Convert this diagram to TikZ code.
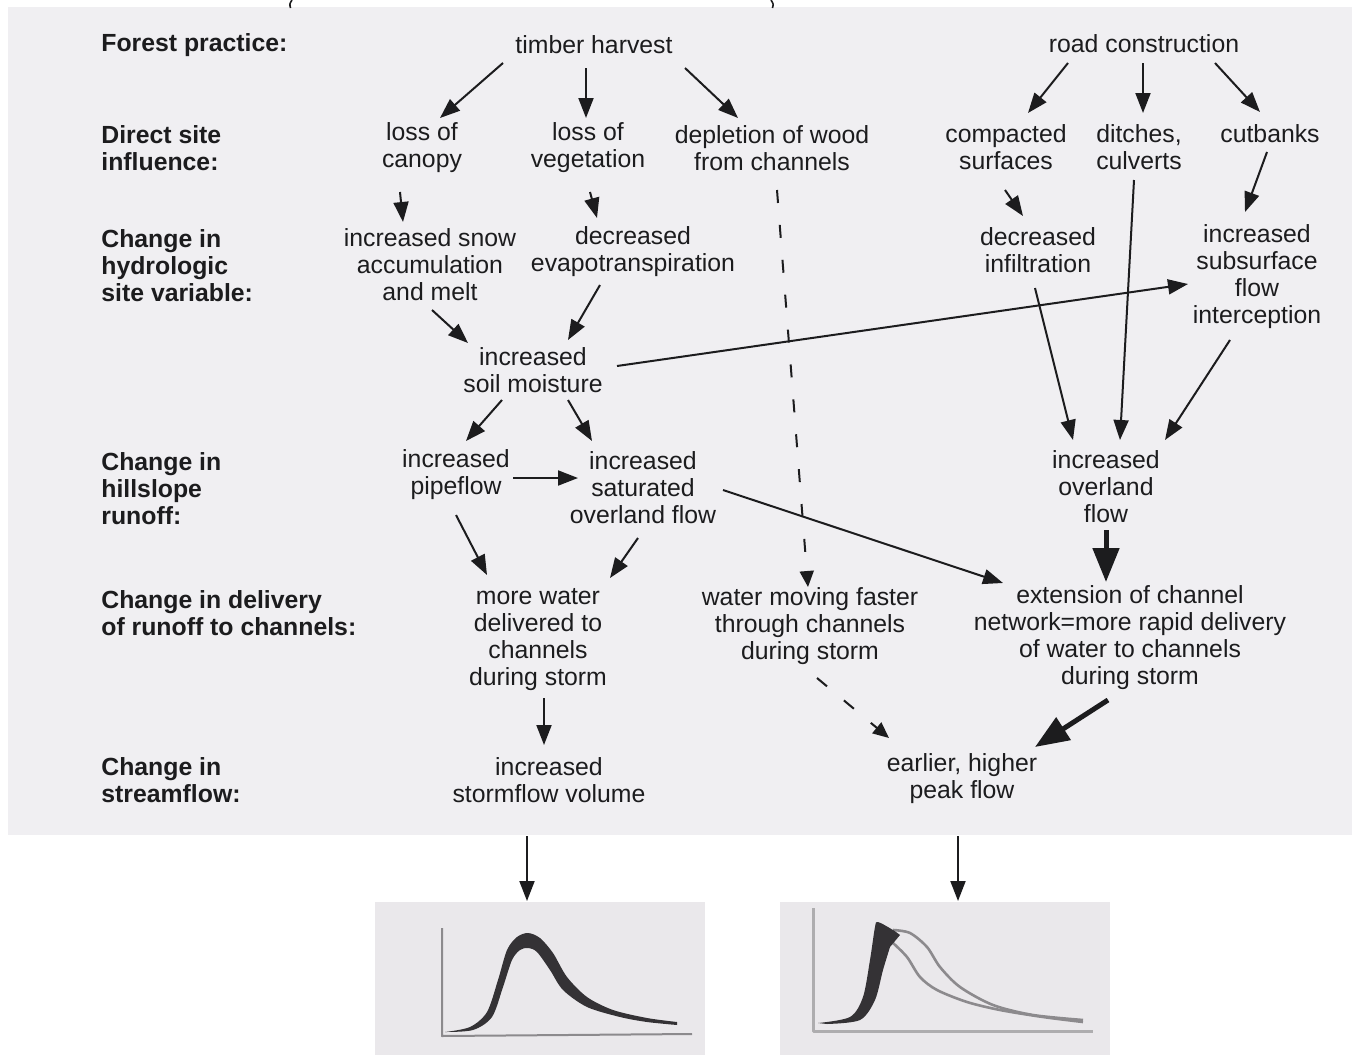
\documentclass[tikz,border=0pt]{standalone}
\usepackage{fontspec}
\setmainfont{Liberation Sans}
\usetikzlibrary{arrows.meta, calc}

\definecolor{paper}{RGB}{240,239,242}
\definecolor{ink}{RGB}{28,28,30}
\definecolor{panel}{RGB}{234,232,235}
\definecolor{hydro}{RGB}{52,50,53}
\definecolor{axis}{RGB}{140,138,141}

\begin{document}
\begin{tikzpicture}[x=0.5pt, y=-0.5pt, line join=round,
    font=\fontsize{12.4}{13.5}\selectfont, text=ink,
    box/.style={align=center, inner sep=0pt},
    lvl/.style={align=left, anchor=west, inner sep=0pt, font=\fontsize{12.4}{13.5}\selectfont\bfseries},
    arr/.style={draw=ink, line width=1pt, -{Triangle[length=10pt, width=7.5pt]}},
    bigarr/.style={draw=ink, line width=2.5pt, -{Triangle[length=17pt, width=13pt]}},
    dasharr/.style={draw=ink, line width=1pt, dash pattern=on 6.5pt off 11pt, -{Triangle[length=8pt, width=7pt]}}]
    \useasboundingbox (0,0) rectangle (1356,1055);
    \fill[paper] (8,7) rectangle (1352,835);
    \draw[ink, line width=0.8pt] (292,0) .. controls (289.5,4) .. (290.5,8);
    \draw[ink, line width=0.8pt] (771,0) .. controls (773.5,4) .. (772.5,8);

    \foreach \n/\y/\t in {practice/45/{Forest practice:}, direct/148/{Direct site\\influence:},
        hydrologic/266/{Change in\\hydrologic\\site variable:}, hillslope/489/{Change in\\hillslope\\runoff:},
        delivery/613/{Change in delivery\\of runoff to channels:}, streamflow/780/{Change in\\streamflow:}} {
      \node[lvl] (\n) at (101,\y) {\t};
    }

    \node[box] (timber) at (594,45) {timber harvest};
    \node[box] (road) at (1144,44) {road construction};
    \node[box] (canopy) at (422,148) {loss of\\canopy};
    \node[box] (veg) at (588,148) {loss of\\vegetation};
    \node[box] (wood) at (772,148) {depletion of wood\\from channels};
    \node[box] (compact) at (1006,147) {compacted\\surfaces};
    \node[box] (ditch) at (1139,147) {ditches,\\culverts};
    \node[box] (cutbank) at (1270,134) {cutbanks};
    \node[box] (snow) at (430,265) {increased snow\\accumulation\\and melt};
    \node[box] (evapo) at (633,252) {decreased\\evapotranspiration};
    \node[box] (infil) at (1038,250) {decreased\\infiltration};
    \node[box] (subsurf) at (1257,277) {increased\\subsurface\\flow\\interception};
    \node[box] (soil) at (533,370) {increased\\soil moisture};
    \node[box] (pipe) at (456,475) {increased\\pipeflow};
    \node[box] (satur) at (643,488) {increased\\saturated\\overland flow};
    \node[box] (overland) at (1106,487) {increased\\overland\\flow};
    \node[box] (deliver) at (538,640) {more water\\delivered to\\channels\\during storm};
    \node[box] (faster) at (810,626) {water moving faster\\through channels\\during storm};
    \node[box] (extend) at (1130,638) {extension of channel\\network=more rapid delivery\\of water to channels\\during storm};
    \node[box] (volume) at (549,780) {increased\\stormflow volume};
    \node[box] (peak) at (962,779) {earlier, higher\\peak flow};
    \coordinate (hydroA) at (527,901);
    \coordinate (hydroB) at (958,901);

    \draw[arr] ($(timber)+(-91,18)$) -- ($(canopy)+(18,-30)$);
    \draw[arr] ($(timber)+(-8,23)$) -- ($(veg)+(-2,-30)$);
    \draw[arr] ($(timber)+(91,23)$) -- ($(wood)+(-34,-30)$);
    \draw[arr] ($(road)+(-76,19)$) -- ($(compact)+(22,-34)$);
    \draw[arr] ($(road)+(-1,19)$) -- ($(ditch)+(4,-34)$);
    \draw[arr] ($(road)+(71,19)$) -- ($(cutbank)+(-10,-22)$);
    \draw[arr] ($(canopy)+(-22,44)$) -- ($(snow)+(-27,-43)$);
    \draw[arr] ($(veg)+(2,44)$) -- ($(evapo)+(-36,-34)$);
    \draw[dasharr] ($(wood)+(5,42)$) -- ($(faster)+(-2,-39)$);
    \draw[arr] ($(compact)+(-1,43)$) -- ($(infil)+(-15,-34)$);
    \draw[arr] ($(cutbank)+(-3,18)$) -- ($(subsurf)+(-12,-65)$);
    \draw[arr] ($(snow)+(2,45)$) -- ($(soil)+(-65,-27)$);
    \draw[arr] ($(evapo)+(-33,33)$) -- ($(soil)+(35,-30)$);
    \draw[arr] ($(soil)+(84,-4)$) -- ($(subsurf)+(-69,7)$);
    \draw[arr] ($(infil)+(-3,38)$) -- ($(overland)+(-33,-47)$);
    \draw[arr] ($(ditch)+(-5,33)$) -- ($(overland)+(14,-47)$);
    \draw[arr] ($(subsurf)+(-27,63)$) -- ($(overland)+(59,-47)$);
    \draw[arr] ($(soil)+(-31,30)$) -- ($(pipe)+(10,-34)$);
    \draw[arr] ($(soil)+(35,30)$) -- ($(satur)+(-51,-47)$);
    \draw[arr] ($(pipe)+(57,3)$) -- ($(satur)+(-65,-10)$);
    \draw[arr] ($(satur)+(80,2)$) -- ($(extend)+(-127,-55)$);
    \draw[bigarr] ($(overland)+(0,43)$) -- ($(extend)+(-24,-56)$);
    \draw[arr] ($(pipe)+(0,40)$) -- ($(deliver)+(-51,-65)$);
    \draw[arr] ($(satur)+(-5,50)$) -- ($(deliver)+(72,-62)$);
    \draw[arr] ($(deliver)+(6,58)$) -- ($(volume)+(-5,-35)$);
    \draw[dasharr] ($(faster)+(7,52)$) -- ($(peak)+(-73,-41)$);
    \draw[bigarr] ($(extend)+(-22,62)$) -- ($(peak)+(73,-32)$);
    \draw[arr] ($(volume)+(-22,56)$) -- (hydroA);
    \draw[arr] ($(peak)+(-4,57)$) -- (hydroB);

    \fill[panel] (375,902) rectangle (705,1055);
    \draw[axis, line width=1pt] (442,928) -- (442,1036) -- (692,1034);
    \fill[hydro] plot[smooth] coordinates {(445,1032) (470,1027) (487,1012) (498,980) (507,950) (517,937) (528,933) (540,938) (553,953) (567,977) (587,997) (613,1010) (647,1018) (677,1022)}
      -- plot[smooth] coordinates {(677,1025) (647,1022) (620,1017) (587,1007) (563,990) (550,970) (537,952) (528,948) (520,950) (512,960) (503,987) (492,1017) (473,1030) (445,1032)} -- cycle;

    \fill[panel] (780,902) rectangle (1110,1055);
    \draw[axis!70, line width=1.5pt] (813,908) -- (813,1031) -- (1093,1031);
    \draw[axis, line width=1.3pt] plot[smooth] coordinates {(893,930) (910,933) (927,947) (940,967) (960,987) (993,1005) (1033,1015) (1083,1020)};
    \draw[axis, line width=1.3pt] plot[smooth] coordinates {(893,943) (907,957) (920,977) (937,990) (967,1002) (1000,1010) (1043,1017) (1083,1022)};
    \fill[hydro] plot[smooth] coordinates {(818,1023) (850,1017) (863,997) (870,960) (875,927) (878,922) (893,930) (900,935)}
      -- plot[smooth] coordinates {(890,947) (883,970) (875,1000) (860,1020) (827,1024)} -- cycle;
\end{tikzpicture}
\end{document}
